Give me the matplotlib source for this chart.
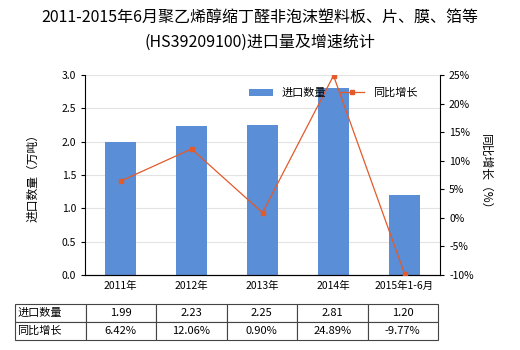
import matplotlib
matplotlib.use('Agg')
import matplotlib.pyplot as plt
from matplotlib.ticker import FuncFormatter

plt.rcParams['font.family'] = ['Noto Sans CJK SC', 'DejaVu Sans']

# ── Data ─────────────────────────────────────────────────────────────────────
categories = ["2011年", "2012年", "2013年", "2014年", "2015年1-6月"]
import_qty = [1.99, 2.23, 2.25, 2.81, 1.20]
growth = [6.42, 12.06, 0.90, 24.89, -9.77]
qty_labels = ["1.99", "2.23", "2.25", "2.81", "1.20"]
growth_labels = ["6.42%", "12.06%", "0.90%", "24.89%", "-9.77%"]

BAR_COLOR = "#5A8ED6"
LINE_COLOR = "#E35A2B"

fig = plt.figure(figsize=(5.2, 3.5), dpi=100)
ax = fig.add_axes([85 / 520, 75 / 350, 355 / 520, 200 / 350])
ax2 = ax.twinx()

x = list(range(len(categories)))
bars = ax.bar(x, import_qty, width=0.43, color=BAR_COLOR, label="进口数量", zorder=2)
line, = ax2.plot(x, growth, color=LINE_COLOR, lw=0.9, marker="s", ms=3.5,
                 label="同比增长", zorder=3)

ax.set_xlim(-0.5, 4.5)
ax.set_ylim(0, 3.0)
ax.set_yticks([0, 0.5, 1.0, 1.5, 2.0, 2.5, 3.0])
ax.yaxis.set_major_formatter(FuncFormatter(lambda v, p: f"{v:.1f}"))
ax2.set_ylim(-10, 25)
ax2.set_yticks(range(-10, 26, 5))
ax2.yaxis.set_major_formatter(FuncFormatter(lambda v, p: f"{v:.0f}%"))

ax.grid(axis="y", color="#E3E3E3", lw=0.8, zorder=0)
ax.set_axisbelow(True)
ax.set_xticks(x)
ax.set_xticklabels(categories, fontsize=7.5)
ax.tick_params(axis="x", length=0, pad=4)
ax.tick_params(axis="y", labelsize=7.5, length=3, width=0.8)
ax2.tick_params(axis="y", labelsize=7.5, length=3, width=0.8)

for a in (ax, ax2):
    a.spines["top"].set_visible(False)
ax.spines["right"].set_visible(False)
ax2.spines["left"].set_visible(False)

ax.set_ylabel("进口数量（万吨）", fontsize=8.5, labelpad=16)
ax2.set_ylabel("同比增长（%）", fontsize=8.5, rotation=270, labelpad=13)

fig.legend([bars, line], ["进口数量", "同比增长"], loc="center",
           bbox_to_anchor=(333 / 520, 1 - 93 / 350), ncol=2, frameon=False,
           fontsize=8, handlelength=2.2, handleheight=0.6, columnspacing=1.2)

fig.suptitle("2011-2015年6月聚乙烯醇缩丁醛非泡沫塑料板、片、膜、箔等\n(HS39209100)进口量及增速统计",
             y=0.975, fontsize=11.5, linespacing=1.6)

# ── Data table below the chart ───────────────────────────────────────────────
cells = [["进口数量"] + qty_labels, ["同比增长"] + growth_labels]
tbl = ax.table(cellText=cells, cellLoc="center",
               bbox=[(15 - 85) / 355, (275 - 340) / 200, 423 / 355, 36 / 200])
tbl.auto_set_font_size(False)
tbl.set_fontsize(8)
for (r, c), cell in tbl.get_celld().items():
    cell.set_edgecolor("#444444")
    cell.set_linewidth(0.8)
    if c == 0:
        cell.get_text().set_ha("left")
        cell.PAD = 0.03

fig.savefig("out.png", dpi=100)
